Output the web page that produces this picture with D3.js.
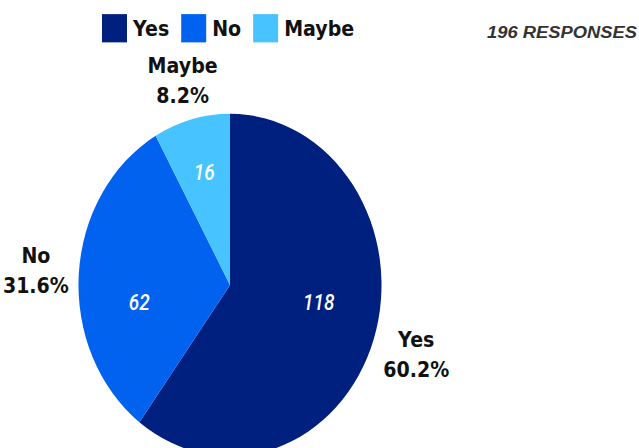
<!DOCTYPE html>
<html>
<head>
<meta charset="utf-8">
<script src="https://cdn.jsdelivr.net/npm/d3@7"></script>
<style>
  html, body { margin: 0; padding: 0; background: #fff; }
  svg { display: block; }
</style>
</head>
<body>
<svg id="chart"></svg>
<script>
// Survey answers
const categories = ["Yes", "No", "Maybe"];
const counts = [118, 62, 16];
const totalResponses = 196;
const colors = ["#00207f", "#0062ee", "#47c4ff"];

const W = 639, H = 448;
// the artwork is drawn in a slightly squashed space and stretched vertically on display
const SY = 1.13;
const VH = H / SY;

const svg = d3.select("#chart")
  .attr("width", W).attr("height", H)
  .attr("viewBox", `0 0 ${W} ${VH}`)
  .attr("preserveAspectRatio", "none");

const cx = 230, cy = 252.2, R = 151.5;
const labelFont = "'DejaVu Sans', sans-serif";

const pie = d3.pie().sort(null).value(d => d)(counts);
const arc = d3.arc().innerRadius(0).outerRadius(R);
const color = d3.scaleOrdinal().domain(categories).range(colors);
const pct = d3.format(".1%");

const g = svg.append("g").attr("transform", `translate(${cx},${cy})`);

g.selectAll("path.slice")
  .data(pie)
  .join("path")
  .attr("class", "slice")
  .attr("d", arc)
  .attr("fill", (d, i) => color(categories[i]));

// value labels inside slices (angle in degrees clockwise from 12 o'clock, distance from centre)
const valueLabelPolar = [[99.6, 90], [260.6, 92], [345.5, 103]];
g.selectAll("text.value")
  .data(pie)
  .join("text")
  .attr("class", "value")
  .attr("x", (d, i) => Math.sin(valueLabelPolar[i][0] * Math.PI / 180) * valueLabelPolar[i][1])
  .attr("y", (d, i) => -Math.cos(valueLabelPolar[i][0] * Math.PI / 180) * valueLabelPolar[i][1])
  .attr("dy", "0.36em")
  .attr("text-anchor", "middle")
  .attr("fill", "#fff")
  .attr("font-family", "Roboto, sans-serif")
  .attr("font-style", "italic")
  .attr("font-weight", 500)
  .attr("font-size", 19)
  .text(d => d.value);

// outside labels: category + share, pushed out so the text box clears the rim
const rim = R + 10;
const lineGap = 26.5;
pie.forEach((d, i) => {
  const lab = g.append("g");
  const t = lab.append("text")
    .attr("text-anchor", "middle")
    .attr("font-family", labelFont)
    .attr("font-weight", 700)
    .attr("font-size", 19)
    .attr("fill", "#111");
  t.append("tspan").attr("x", 0).attr("y", 0).text(categories[i]);
  t.append("tspan").attr("x", 0).attr("y", lineGap).text(pct(d.value / totalResponses));
  const bb = t.node().getBBox();
  const hw = bb.width / 2, hh = bb.height / 2;
  const mid = (d.startAngle + d.endAngle) / 2;
  const dx = Math.sin(mid), dy = -Math.cos(mid);
  const ext = Math.min(Math.abs(dx) > 1e-6 ? hw / Math.abs(dx) : Infinity,
                       Math.abs(dy) > 1e-6 ? hh / Math.abs(dy) : Infinity);
  const px = dx * (rim + ext), py = dy * (rim + ext);
  lab.attr("transform", `translate(${px - (bb.x + hw)},${py - (bb.y + hh)})`);
});

// legend
const legend = svg.append("g").attr("transform", "translate(102,12.5)");
let lx = 0;
categories.forEach((c, i) => {
  legend.append("rect")
    .attr("x", lx).attr("y", 0)
    .attr("width", 25).attr("height", 25)
    .attr("fill", color(c));
  const t = legend.append("text")
    .attr("x", lx + 31).attr("y", 19.5)
    .attr("font-family", labelFont)
    .attr("font-weight", 700)
    .attr("font-size", 19)
    .attr("fill", "#111")
    .text(c);
  lx += 31 + t.node().getComputedTextLength() + 12;
});

// response count
svg.append("text")
  .attr("x", 637).attr("y", 33.6)
  .attr("text-anchor", "end")
  .attr("font-family", "'Liberation Sans', Arial, sans-serif")
  .attr("font-weight", 700)
  .attr("font-style", "italic")
  .attr("font-size", 14.5)
  .attr("textLength", 150)
  .attr("lengthAdjust", "spacingAndGlyphs")
  .attr("fill", "#333")
  .text(`${totalResponses} RESPONSES`);
</script>
</body>
</html>
